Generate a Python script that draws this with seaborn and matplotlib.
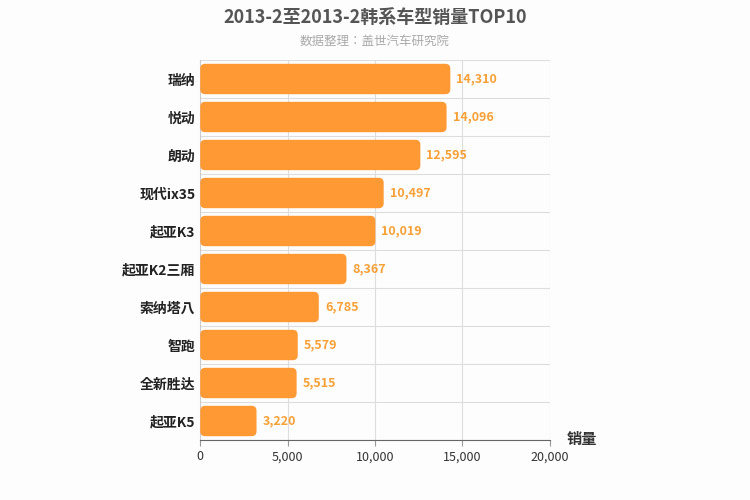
import matplotlib
matplotlib.use("Agg")
import matplotlib.pyplot as plt
import seaborn as sns
import pandas as pd
from matplotlib.patches import FancyBboxPatch

plt.rcParams["font.family"] = "sans-serif"
plt.rcParams["font.sans-serif"] = ["Noto Sans CJK SC", "Noto Sans CJK JP", "Noto Sans CJK TC", "DejaVu Sans"]

models = ["瑞纳", "悦动", "朗动", "现代ix35", "起亚K3", "起亚K2三厢", "索纳塔八", "智跑", "全新胜达", "起亚K5"]
sales = [14310, 14096, 12595, 10497, 10019, 8367, 6785, 5579, 5515, 3220]
xticks = [0, 5000, 10000, 15000, 20000]

df = pd.DataFrame({"model": models, "sales": sales})
fig = plt.figure(figsize=(7.5, 5), dpi=100, facecolor="#fdfdfd")
ax = fig.add_axes([0.267, 0.12, 0.466, 0.76])
ax.set_facecolor("#fdfdfd")
sns.barplot(data=df, x="sales", y="model", color="#ff9933", width=0.8, ax=ax, zorder=3)
ax.set_xlim(0, 20000)
ax.set_ylim(9.5, -0.5)

xr = 20000 / 350
yr = 10 / 380
for p in list(ax.patches):
    x, y, w, h = p.get_x(), p.get_y(), p.get_width(), p.get_height()
    fb = FancyBboxPatch((x, y), w, h, boxstyle=f"round,pad=0,rounding_size={5*xr}",
                        mutation_aspect=yr / xr, facecolor="#ff9933", edgecolor="none", zorder=3)
    p.remove()
    ax.add_patch(fb)

for i, v in enumerate(sales):
    ax.text(v + 350, i, f"{v:,}", va="center", ha="left", color="#f7a035", fontsize=9, fontweight="bold")

ax.set_xticks(xticks)
ax.set_xticklabels([f"{t:,}" for t in xticks], fontsize=9, color="#333333")
ax.tick_params(axis="y", labelsize=10, length=0, labelcolor="#222222")
for lab in ax.get_yticklabels():
    lab.set_fontweight("bold")
ax.tick_params(axis="x", length=4, color="#999999")
ax.set_xlabel("")
ax.set_ylabel("")
ax.grid(True, axis="both", color="#dddddd", linewidth=0.8, zorder=0)
ax.set_yticks([i + 0.5 for i in range(-1, 10)], minor=True)
ax.grid(False, axis="y")
ax.grid(True, axis="y", which="minor", color="#dddddd", linewidth=0.8)
ax.tick_params(axis="y", which="minor", length=0)
for s in ["top", "right"]:
    ax.spines[s].set_visible(False)
ax.spines["left"].set_color("#cccccc")
ax.spines["bottom"].set_color("#666666")

fig.text(0.5, 0.965, "2013-2至2013-2韩系车型销量TOP10", ha="center", va="center",
         fontsize=13, fontweight="bold", color="#555555")
fig.text(0.5, 0.918, "数据整理：盖世汽车研究院", ha="center", va="center", fontsize=9, color="#aaaaaa")
fig.text(0.755, 0.122, "销量", ha="left", va="center", fontsize=11, fontweight="bold", color="#333333")
fig.savefig("out.png", dpi=100, facecolor=fig.get_facecolor())
